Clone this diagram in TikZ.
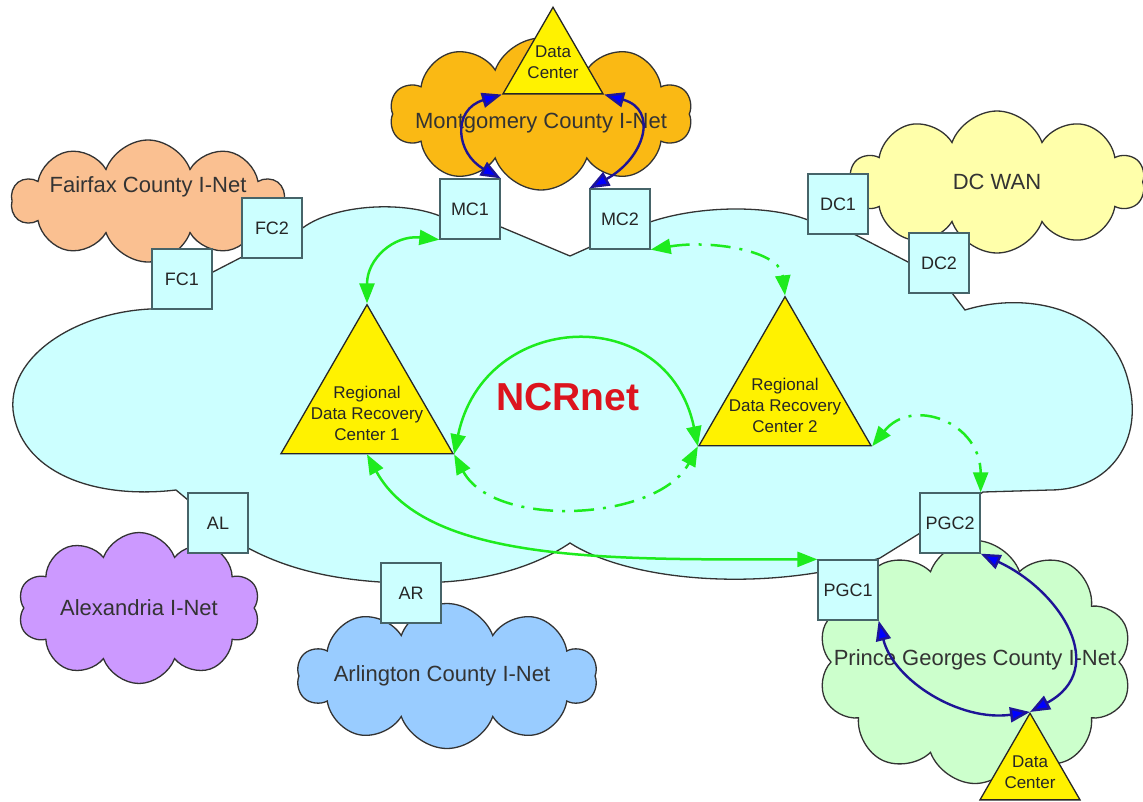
\documentclass[tikz,border=0pt]{standalone}
\usepackage{fontspec}
\setmainfont{Liberation Sans}
\usetikzlibrary{shapes.symbols,shapes.geometric,arrows.meta}

\definecolor{ncrfill}{RGB}{204,255,255}
\definecolor{boxline}{RGB}{70,100,105}
\definecolor{fairfaxfill}{RGB}{250,192,145}
\definecolor{montfill}{RGB}{250,185,20}
\definecolor{dcfill}{RGB}{255,255,170}
\definecolor{alexfill}{RGB}{204,153,255}
\definecolor{arlfill}{RGB}{153,204,255}
\definecolor{pgfill}{RGB}{204,255,204}
\definecolor{linkgreen}{RGB}{30,235,30}
\definecolor{linkblue}{RGB}{30,20,150}
\definecolor{ncrred}{RGB}{220,20,30}

\tikzset{
  county/.style={cloud, draw=black!80, line width=1.3pt, cloud ignores aspect,
    cloud puffs=10, cloud puff arc=140, inner sep=0pt},
  cloudtext/.style={font=\fontsize{22}{26}\selectfont, text=black!80},
  site/.style={draw=boxline, fill=ncrfill, line width=1.3pt, minimum width=60pt,
    minimum height=60pt, inner sep=0pt, font=\fontsize{18}{21}\selectfont, text=black!85},
  recovery/.style={regular polygon, regular polygon sides=3, minimum size=198.6pt,
    draw=black!85, fill=yellow, line width=1.3pt, inner sep=0pt},
  datacenter/.style={recovery, minimum size=115.5pt},
  smalltext/.style={align=center, font=\fontsize{17}{21}\selectfont, text=black!85},
  greenlink/.style={draw=linkgreen, line width=2.5pt, <->,
    >={Triangle[length=20pt,width=15pt]}},
  dashdot/.style={dash pattern=on 20pt off 9pt on 3pt off 9pt},
  bluelink/.style={draw=linkblue, line width=2.4pt, <->,
    >={Triangle[length=20pt,width=15pt,fill=blue]}}
}

\begin{document}
\begin{tikzpicture}[x=1pt,y=-1pt]
  \path[use as bounding box, fill=white] (0,0) rectangle (1143,801);

  % NCRnet cloud
  \draw[fill=ncrfill, draw=black!80, line width=1.3pt]
    (182,300) -- (211,273) -- (242,257) -- (272,240) -- (300,230)
    .. controls (330,205) and (400,200) .. (440,216) -- (470,222)
    -- (501,227) -- (570,256) -- (590,247) -- (620,235) -- (650,222)
    .. controls (700,205) and (770,205) .. (808,220) -- (838,228)
    -- (852,233) -- (908,262) -- (939,280) -- (952,293) -- (965,310)
    .. controls (1030,290) and (1110,310) .. (1128,380)
    .. controls (1145,440) and (1110,490) .. (1050,490) -- (983,492)
    -- (950,515) -- (917,535) -- (880,558) -- (848,568) -- (815,573)
    .. controls (720,588) and (620,575) .. (570,543)
    .. controls (530,570) and (480,580) .. (442,582) -- (411,585) -- (380,582)
    .. controls (320,578) and (280,565) .. (248,548) -- (218,525)
    -- (188,500) -- (176,490)
    .. controls (90,500) and (20,470) .. (13,410)
    .. controls (8,350) and (90,305) .. (170,309) -- cycle;
  \node[font=\fontsize{39}{44}\bfseries\selectfont, text=ncrred] (ncrnet) at (568,397) {NCRnet};

  % member networks
  \node[county, fill=fairfaxfill, minimum width=273pt, minimum height=122pt] (fairfax) at (148,201) {};
  \node[county, fill=montfill, minimum width=302pt, minimum height=152pt] (montgomery) at (541,114) {};
  \node[county, fill=dcfill, minimum width=295pt, minimum height=142pt] (dcwan) at (997,182) {};
  \node[county, fill=alexfill, minimum width=242pt, minimum height=151pt] (alexandria) at (139,608) {};
  \node[county, fill=arlfill, minimum width=300pt, minimum height=145pt] (arlington) at (447,676) {};
  \node[county, fill=pgfill, minimum width=315pt, minimum height=243pt] (princegeorges) at (975,662) {};

  \node[cloudtext] (fairfax text) at ([yshift=14pt]fairfax.center) {Fairfax County I-Net};
  \node[cloudtext] (montgomery text) at ([yshift=-9pt]montgomery.center) {Montgomery County I-Net};
  \node[cloudtext] (dcwan text) at (dcwan.center) {DC WAN};
  \node[cloudtext] (alexandria text) at (alexandria.center) {Alexandria I-Net};
  \node[cloudtext] (arlington text) at ([xshift=-5pt]arlington.center) {Arlington County I-Net};
  \node[cloudtext] (princegeorges text) at ([yshift=2pt]princegeorges.center) {Prince Georges County I-Net};

  % recovery centres and data centres
  \node[recovery] (rdrc1) at (367,404) {};
  \node[recovery] (rdrc2) at (785,396) {};
  \node[datacenter] (mont dc) at (553,65) {};
  \node[datacenter] (pg dc) at (1030,771) {};
  \node[smalltext] (rdrc1 text) at ([yshift=-9pt]rdrc1.center) {Regional\\Data Recovery\\Center 1};
  \node[smalltext] (rdrc2 text) at ([yshift=-9pt]rdrc2.center) {Regional\\Data Recovery\\Center 2};
  \node[smalltext] (mont dc text) at ([yshift=3pt]mont dc.center) {Data\\Center};
  \node[smalltext] (pg dc text) at ([yshift=-1pt]pg dc.center) {Data\\Center};

  % connection points
  \node[site] (fc1) at (182,279) {FC1};
  \node[site] (fc2) at (272,228) {FC2};
  \node[site] (mc1) at (470,209) {MC1};
  \node[site] (mc2) at (620,219) {MC2};
  \node[site] (dc1) at (838,204) {DC1};
  \node[site] (dc2) at (939,263) {DC2};
  \node[site] (al) at (218,523) {AL};
  \node[site] (ar) at (411,593) {AR};
  \node[site] (pgc1) at (848,590) {PGC1};
  \node[site] (pgc2) at (950,523) {PGC2};

  % local links
  \draw[bluelink] (mont dc.corner 2) .. controls +(-50,15) and +(-45,-25) .. (mc1.north east);
  \draw[bluelink] (mont dc.corner 3) .. controls +(55,15) and +(55,-30) .. (mc2.north west);
  \draw[bluelink] (pgc1.south east) .. controls +(15,60) and +(-70,10) .. (pg dc.corner 1);
  \draw[bluelink] (pgc2.south east) .. controls +(80,37) and +(80,-43) .. (pg dc.corner 1);

  % backup links
  \draw[greenlink] (mc1.south west) .. controls +(-45,-5) and +(0,-45) .. (rdrc1.corner 1);
  \draw[greenlink] (rdrc1.corner 3) .. controls +(30,-145) and +(-30,-145) .. (rdrc2.corner 2);
  \draw[greenlink, dashdot] (rdrc1.corner 3) .. controls +(40,75) and +(-40,75) .. (rdrc2.corner 2);
  \draw[greenlink, dashdot] (mc2.south east) .. controls +(60,-10) and +(-5,-45) .. (rdrc2.corner 1);
  \draw[greenlink, dashdot] (rdrc2.corner 3) .. controls +(40,-50) and +(0,-70) .. (pgc2.north east);
  \draw[greenlink] (rdrc1.south) .. controls +(60,110) and +(-200,0) .. (pgc1.north west);
\end{tikzpicture}
\end{document}
